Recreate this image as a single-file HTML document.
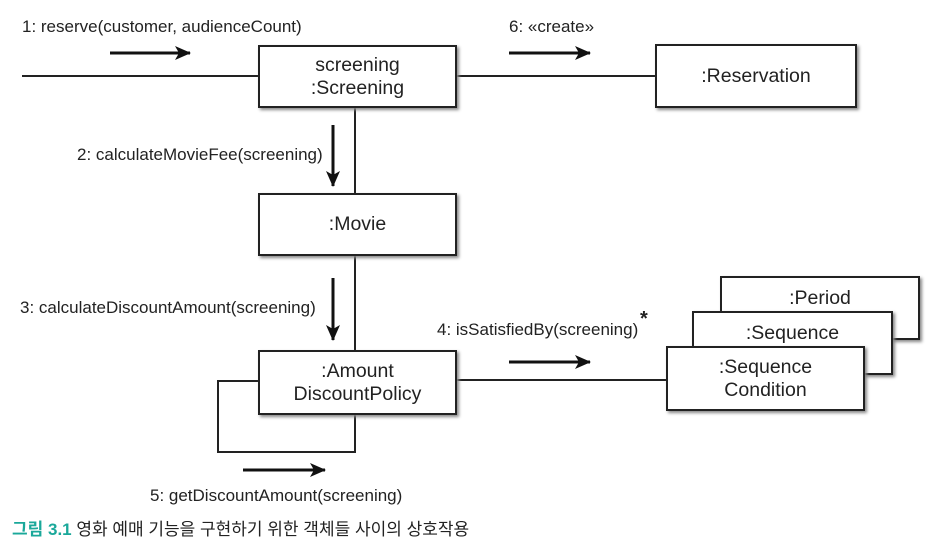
<!DOCTYPE html>
<html><head><meta charset="utf-8"><style>
body{margin:0;width:948px;height:554px;background:#fff;overflow:hidden;position:relative;font-family:"Liberation Sans","Noto Sans CJK KR",sans-serif;color:#222}
.b{position:absolute;background:#fff;border:2px solid #222;box-shadow:2px 2px 3px #888;box-sizing:border-box;display:flex;align-items:center;justify-content:center;text-align:center;font-size:19.5px;line-height:23px;font-weight:500}
.t{position:absolute;font-size:17px;white-space:nowrap;color:#222}
svg{position:absolute;left:0;top:0}
</style></head><body>
<svg width="948" height="554">
<defs><marker id="d" markerWidth="16" markerHeight="14" refX="15" refY="7" orient="auto" markerUnits="userSpaceOnUse"><path d="M0,0 L16,7 L0,14 L4,7 Z" fill="#111"/></marker></defs>
<g stroke="#222" stroke-width="2" fill="none">
<line x1="22" y1="76" x2="258" y2="76"/>
<line x1="457" y1="76" x2="655" y2="76"/>
<line x1="355" y1="108" x2="355" y2="193"/>
<line x1="355" y1="256" x2="355" y2="350"/>
<line x1="457" y1="380" x2="666" y2="380"/>
<polyline points="258,381 218,381 218,452 355,452 355,415"/>
</g>
<g stroke="#111" stroke-width="3">
<line x1="110" y1="53" x2="190" y2="53" marker-end="url(#d)"/>
<line x1="509" y1="53" x2="590" y2="53" marker-end="url(#d)"/>
<line x1="333" y1="125" x2="333" y2="186" marker-end="url(#d)"/>
<line x1="333" y1="278" x2="333" y2="340" marker-end="url(#d)"/>
<line x1="509" y1="362" x2="590" y2="362" marker-end="url(#d)"/>
<line x1="243" y1="470" x2="325" y2="470" marker-end="url(#d)"/>
</g>
</svg>
<div class="b" style="left:258px;top:45px;width:199px;height:63px">screening<br>:Screening</div>
<div class="b" style="left:655px;top:44px;width:202px;height:64px">:Reservation</div>
<div class="b" style="left:258px;top:193px;width:199px;height:63px">:Movie</div>
<div class="b" style="left:258px;top:350px;width:199px;height:65px">:Amount<br>DiscountPolicy</div>
<div class="b" style="left:720px;top:276px;width:200px;height:64px;align-items:flex-start;padding-top:9px">:Period</div>
<div class="b" style="left:692px;top:311px;width:201px;height:64px;align-items:flex-start;padding-top:9px">:Sequence</div>
<div class="b" style="left:666px;top:346px;width:199px;height:65px">:Sequence<br>Condition</div>
<div class="t" style="left:22px;top:17px">1: reserve(customer, audienceCount)</div>
<div class="t" style="left:509px;top:17px">6: «create»</div>
<div class="t" style="left:77px;top:145px">2: calculateMovieFee(screening)</div>
<div class="t" style="left:20px;top:298px">3: calculateDiscountAmount(screening)</div>
<div class="t" style="left:437px;top:320px">4: isSatisfiedBy(screening)</div>
<div class="t" style="left:640px;top:308px;font-size:20px;font-weight:bold">*</div>
<div class="t" style="left:150px;top:486px">5: getDiscountAmount(screening)</div>
<div class="t" style="left:12px;top:515px;font-size:17px"><span style="color:#1aa89a;font-weight:bold">그림 3.1</span> 영화 예매 기능을 구현하기 위한 객체들 사이의 상호작용</div>
</body></html>
